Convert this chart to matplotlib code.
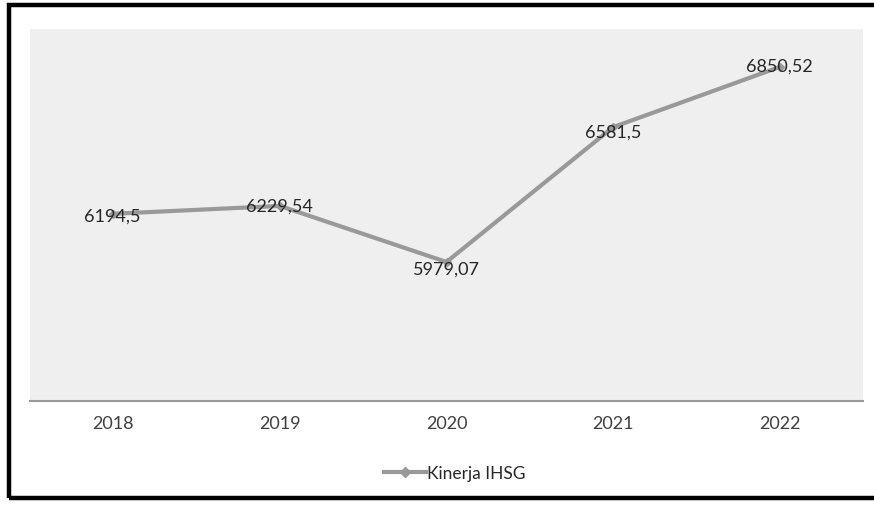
import matplotlib.pyplot as plt
from matplotlib.patches import Rectangle
from matplotlib.lines import Line2D

years = ['2018', '2019', '2020', '2021', '2022']
ihsg = [6194.5, 6229.54, 5979.07, 6581.5, 6850.52]
labels = ['6194,5', '6229,54', '5979,07', '6581,5', '6850,52']

plt.rcParams['font.family'] = ['Lato', 'DejaVu Sans']

W, H = 874, 506
fig = plt.figure(figsize=(W / 100, H / 100), dpi=100)

# outer frame (right edge cut off like the screenshot)
fig.patches.append(Rectangle((8.5 / W, 1 - 498.5 / H), 1.0, (498.5 - 5.5) / H,
                             transform=fig.transFigure, fill=False,
                             edgecolor='black', linewidth=3.2))

ax = fig.add_axes([30 / W, 1 - 402 / H, (863 - 30) / W, (402 - 30) / H])
ax.set_facecolor('#efefef')
x = range(len(years))
ax.plot(x, ihsg, color='#999999', lw=3, marker='D', ms=4,
        markerfacecolor='#999999', markeredgecolor='#999999')
ax.set_xlim(-0.5, len(years) - 0.5)
ax.set_ylim(5358, 7020)
ax.set_xticks(list(x))
ax.set_xticklabels(years, fontsize=13, color='#404040')
ax.tick_params(axis='x', length=0, pad=10)
ax.set_yticks([])
for s in ['top', 'left', 'right']:
    ax.spines[s].set_visible(False)
ax.spines['bottom'].set_color('#999999')
ax.spines['bottom'].set_linewidth(1.5)

offs = [(-1, -1), (0, 0), (0, -5), (0, -3), (0, 1)]
for i, (v, t) in enumerate(zip(ihsg, labels)):
    ax.annotate(t, (i, v), xytext=offs[i], textcoords='offset points',
                ha='center', va='center', fontsize=13, color='#262626')

h = Line2D([], [], color='#999999', lw=3, marker='D', ms=5)
fig.legend([h], ['Kinerja IHSG'], loc='center', bbox_to_anchor=(455 / W, 1 - 474 / H),
           frameon=False, fontsize=12.5, handlelength=2.4, handletextpad=0.1,
           labelcolor='#262626')

fig.savefig('out.png', dpi=100)
